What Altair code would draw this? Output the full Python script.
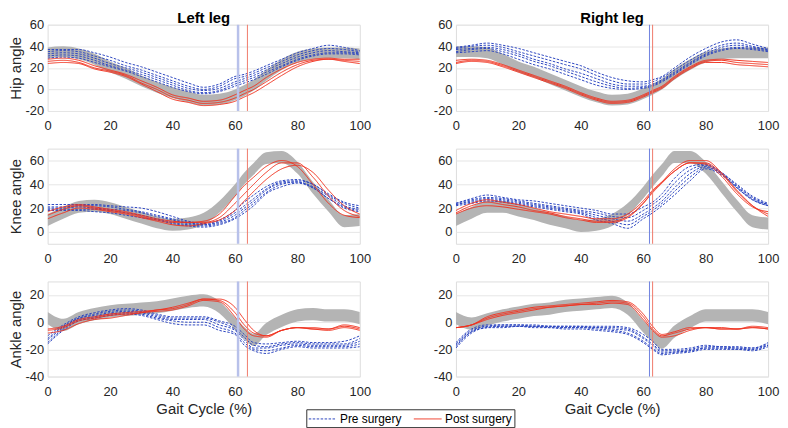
import altair as alt
import pandas as pd

FONT = "Liberation Sans"
BLUE = "#2e47c0"
RED = "#f0321e"
GRAY = "#b4b4b4"
GROUPS = ["Pre surgery", "Post surgery"]

X = [0, 5, 10, 15, 20, 25, 30, 35, 40, 45, 50, 55, 60, 63, 66, 70, 75, 80, 85, 90, 95, 100]
XTICKS = [0, 20, 40, 60, 80, 100]

# ---------------- Hip ----------------
HIP_L_NORM = [34, 35, 33, 28, 21, 15, 8, 2, -3, -7, -10, -9, -5, -1, 4, 13, 23, 30, 33, 34, 34, 33]
HIP_L_SD = 5
HIP_L_PRE = [
    [37, 37, 37, 34, 30, 25, 21, 16, 11, 6, 2, 5, 12, 14, 17, 22, 28, 34, 38, 41, 39, 36],
    [35, 36, 35, 31, 27, 22, 18, 13, 8, 3, 0, 3, 10, 12, 15, 20, 26, 32, 36, 38, 37, 35],
    [33, 34, 33, 29, 24, 20, 16, 11, 6, 1, -1, 1, 7, 10, 13, 18, 24, 30, 34, 36, 35, 34],
    [31, 32, 31, 27, 22, 18, 14, 9, 4, -1, -3, -1, 5, 8, 11, 16, 22, 28, 32, 34, 34, 33],
    [29, 30, 29, 25, 21, 17, 12, 7, 2, -2, -4, -2, 3, 6, 9, 14, 21, 27, 31, 33, 33, 32],
]
HIP_L_POST = [
    [28, 29, 27, 22, 18, 14, 8, 2, -5, -8, -11, -10, -5, -1, 3, 11, 19, 25, 28, 29, 28, 28],
    [26, 27, 25, 20, 17, 13, 6, 0, -7, -10, -13, -12, -8, -4, 0, 7, 16, 23, 27, 28, 27, 26],
    [24, 25, 24, 19, 16, 12, 5, -2, -9, -12, -15, -14, -11, -7, -3, 4, 13, 21, 26, 28, 26, 24],
]
HIP_R_NORM = [35, 35, 34, 28, 21, 16, 10, 4, -2, -7, -10, -9, -4, 0, 5, 14, 23, 30, 33, 34, 34, 34]
HIP_R_SD = 5
HIP_R_PRE = [
    [39, 41, 43, 41, 38, 34, 30, 26, 22, 16, 11, 8, 7, 9, 12, 20, 30, 38, 44, 46, 42, 38],
    [38, 40, 41, 39, 35, 31, 27, 23, 19, 13, 8, 5, 5, 7, 11, 18, 27, 35, 41, 43, 40, 37],
    [37, 38, 39, 37, 33, 28, 24, 19, 15, 10, 5, 3, 3, 5, 9, 16, 25, 33, 39, 41, 39, 37],
    [35, 37, 38, 35, 31, 26, 22, 17, 12, 7, 3, 1, 2, 4, 8, 15, 24, 32, 37, 39, 38, 36],
    [34, 35, 36, 33, 28, 23, 19, 14, 9, 4, 1, 0, 1, 3, 7, 14, 23, 31, 36, 38, 37, 35],
]
HIP_R_POST = [
    [27, 28, 27, 23, 18, 13, 8, 3, -3, -8, -11, -10, -5, -1, 3, 12, 21, 27, 28, 27, 26, 25],
    [25, 27, 26, 22, 17, 12, 7, 2, -4, -9, -12, -11, -6, -2, 2, 11, 20, 26, 27, 25, 24, 23],
    [24, 26, 25, 21, 16, 11, 6, 1, -5, -10, -13, -12, -7, -3, 1, 10, 19, 25, 25, 23, 22, 21],
]

# ---------------- Knee ----------------
KNEE_L_NORM = [10, 16, 21, 22, 20, 16, 12, 8, 6, 7, 11, 21, 35, 45, 53, 62, 63, 54, 37, 22, 9, 10]
KNEE_L_SD = 5
KNEE_L_PRE = [
    [23, 23, 23, 23, 22, 21, 20, 17, 13, 9, 7, 10, 18, 25, 31, 38, 43, 44, 40, 32, 25, 22],
    [21, 21, 22, 22, 21, 19, 17, 14, 11, 8, 6, 9, 16, 22, 28, 36, 42, 43, 40, 31, 24, 20],
    [20, 20, 21, 20, 19, 18, 16, 13, 10, 7, 6, 8, 14, 20, 26, 35, 41, 42, 38, 30, 22, 19],
    [19, 19, 19, 19, 18, 16, 14, 11, 8, 6, 5, 7, 12, 18, 24, 33, 40, 42, 37, 28, 21, 18],
    [18, 18, 18, 17, 16, 14, 12, 10, 7, 5, 4, 6, 11, 16, 22, 32, 38, 41, 37, 28, 20, 17],
]
KNEE_L_POST = [
    [17, 21, 23, 21, 19, 17, 14, 11, 9, 8, 9, 15, 30, 39, 46, 55, 60, 55, 40, 24, 14, 12],
    [14, 19, 22, 20, 18, 16, 13, 10, 8, 8, 8, 12, 24, 32, 40, 50, 58, 58, 46, 30, 18, 13],
    [11, 16, 20, 19, 17, 15, 12, 9, 6, 5, 7, 10, 18, 26, 34, 44, 53, 56, 50, 35, 22, 15],
]
KNEE_R_NORM = [10, 16, 21, 21, 18, 15, 11, 8, 5, 6, 10, 19, 33, 43, 52, 63, 63, 54, 38, 22, 9, 7]
KNEE_R_SD = 5
KNEE_R_PRE = [
    [24, 28, 31, 29, 27, 26, 24, 22, 20, 18, 15, 15, 21, 25, 32, 45, 55, 57, 50, 40, 30, 24],
    [24, 27, 29, 28, 26, 24, 22, 20, 18, 16, 13, 12, 18, 23, 29, 41, 52, 56, 50, 39, 29, 23],
    [23, 26, 28, 27, 25, 23, 21, 19, 17, 14, 11, 9, 15, 20, 26, 37, 49, 55, 49, 38, 28, 23],
    [23, 25, 27, 26, 24, 22, 20, 18, 16, 12, 9, 6, 13, 18, 24, 34, 46, 54, 49, 37, 27, 22],
    [22, 24, 26, 25, 23, 21, 19, 17, 15, 10, 7, 3, 11, 16, 22, 31, 43, 53, 48, 37, 27, 22],
]
KNEE_R_POST = [
    [18, 24, 27, 25, 23, 20, 17, 15, 13, 11, 11, 15, 26, 35, 42, 51, 58, 57, 47, 32, 21, 17],
    [16, 22, 25, 23, 21, 18, 16, 13, 11, 9, 9, 13, 24, 33, 41, 51, 58, 58, 49, 34, 22, 15],
    [15, 20, 22, 21, 19, 17, 15, 12, 10, 8, 8, 12, 24, 34, 42, 53, 60, 60, 50, 35, 22, 13],
]

# ---------------- Ankle ----------------
ANKLE_L_NORM = [3, -2, 3, 6, 8, 9, 10, 11, 13, 15, 16, 11, -1, -8, -13, -5, 1, 5, 6, 5, 5, 3]
ANKLE_L_SD = 4.5
ANKLE_L_PRE = [
    [-10, -2, 4, 7, 9, 10, 9, 6, 4, 4, 4, 1, -3, -9, -15, -16, -15, -14, -15, -15, -14, -10],
    [-12, -3, 3, 6, 8, 9, 8, 5, 3, 3, 3, 0, -5, -11, -17, -18, -16, -15, -16, -16, -16, -12],
    [-13, -4, 3, 5, 7, 8, 7, 4, 2, 2, 2, -2, -6, -13, -19, -19, -17, -16, -17, -17, -17, -14],
    [-15, -5, 2, 4, 6, 7, 6, 3, 1, 0, 0, -4, -8, -15, -20, -21, -19, -17, -18, -18, -18, -16],
    [-16, -6, 1, 3, 5, 6, 5, 2, -1, -2, -2, -6, -9, -17, -21, -23, -20, -18, -19, -19, -19, -18],
]
ANKLE_L_POST = [
    [-5, -3, 2, 4, 6, 7, 8, 9, 11, 14, 17, 17, 11, 2, -6, -10, -6, -4, -4, -5, -2, -4],
    [-6, -4, 1, 3, 5, 6, 7, 9, 10, 13, 17, 16, 7, -2, -8, -10, -6, -4, -5, -5, -3, -5],
    [-8, -6, -1, 2, 3, 5, 7, 8, 9, 12, 16, 15, 4, -5, -10, -11, -6, -4, -5, -6, -4, -6],
]
ANKLE_R_NORM = [3, -1, 2, 5, 7, 9, 10, 12, 13, 14, 15, 10, -3, -10, -15, -7, 0, 5, 5, 5, 5, 3]
ANKLE_R_SD = 4.5
ANKLE_R_PRE = [
    [-15, -5, -2, -2, -2, -2, -3, -3, -3, -3, -3, -4, -9, -14, -20, -20, -19, -17, -18, -18, -19, -15],
    [-16, -6, -3, -2, -2, -3, -3, -3, -3, -4, -4, -5, -11, -16, -21, -21, -20, -18, -18, -19, -19, -16],
    [-17, -7, -3, -3, -3, -3, -3, -4, -4, -4, -5, -6, -12, -17, -22, -22, -21, -19, -19, -19, -20, -17],
    [-18, -7, -4, -3, -3, -3, -4, -4, -4, -5, -6, -8, -14, -19, -23, -22, -21, -19, -19, -20, -20, -17],
    [-19, -8, -4, -4, -3, -4, -4, -5, -5, -6, -7, -9, -15, -20, -24, -23, -22, -20, -20, -20, -21, -18],
]
ANKLE_R_POST = [
    [-4, -2, 4, 7, 9, 11, 12, 13, 14, 15, 16, 15, 6, -3, -9, -7, -4, -4, -4, -5, -3, -4],
    [-4, -2, 3, 6, 8, 10, 11, 12, 13, 14, 15, 14, 4, -5, -10, -8, -5, -4, -5, -5, -4, -5],
    [-4, -2, 2, 5, 7, 9, 11, 12, 13, 13, 14, 13, 2, -6, -11, -10, -6, -4, -5, -5, -4, -5],
]

# Toe-off markers (pre, post) per side
TOE_L = [61, 64]
TOE_R = [62, 63]

LEG = alt.Legend(
    title=None, orient="none", legendX=261, legendY=388, direction="horizontal",
    symbolType="M-1,0H3", symbolSize=196, symbolStrokeWidth=1,
    labelFontSize=12, labelFont=FONT, labelColor="#000000",
    strokeColor="#333333", padding=2, columnPadding=9, labelOffset=17,
)

W = 315


def panel(norm, sd, pre, post, dom, yticks, toe, pre_rule, ytitle, xtitle, title, h):
    band_df = pd.DataFrame({"x": X, "lo": [m - sd for m in norm], "hi": [m + sd for m in norm]})
    recs = []
    for i, c in enumerate(pre):
        for xv, yv in zip(X, c):
            recs.append({"x": xv, "y": yv, "sid": f"a{i}", "group": GROUPS[0]})
    pre_df = pd.DataFrame(recs)
    recs = []
    for i, c in enumerate(post):
        for xv, yv in zip(X, c):
            recs.append({"x": xv, "y": yv, "sid": f"b{i}", "group": GROUPS[1]})
    post_df = pd.DataFrame(recs)

    xaxis = alt.Axis(values=XTICKS, title=xtitle, ticks=False, domain=False, grid=False,
                     labelFlush=False, labelPadding=9, labelFontSize=13, labelColor="#262626",
                     labelFont=FONT, titleFontSize=15, titleFontWeight="normal", titleFont=FONT,
                     titleColor="#262626", titlePadding=3)
    yaxis = alt.Axis(values=yticks, title=ytitle, ticks=False, domain=False, grid=True,
                     gridColor="#e6e6e6", labelFlush=False, labelPadding=4, labelFontSize=13,
                     labelColor="#262626", labelFont=FONT, labelExpr="'' + datum.value",
                     titleFontSize=15, titleFontWeight="normal", titleFont=FONT,
                     titleColor="#262626", titlePadding=1, minExtent=23, maxExtent=23)
    xs = alt.Scale(domain=[0, 100], nice=False, zero=False)
    ys = alt.Scale(domain=dom, nice=False, zero=False)
    xenc = alt.X("x:Q", scale=xs, axis=xaxis)
    color = alt.Color("group:N", scale=alt.Scale(domain=GROUPS, range=[BLUE, RED]), legend=LEG)
    dash = alt.StrokeDash("group:N", scale=alt.Scale(domain=GROUPS, range=[[2.5, 1.5], [1, 0]]), legend=LEG)

    band = alt.Chart(band_df).mark_area(color=GRAY, interpolate="monotone", clip=True).encode(
        x=xenc, y=alt.Y("lo:Q", scale=ys, axis=yaxis), y2="hi:Q")
    pre_l = alt.Chart(pre_df).mark_line(strokeWidth=1, interpolate="monotone", clip=True).encode(
        x=xenc, y=alt.Y("y:Q", scale=ys, axis=yaxis), color=color, strokeDash=dash, detail="sid:N")
    post_l = alt.Chart(post_df).mark_line(strokeWidth=1, interpolate="monotone", clip=True).encode(
        x=xenc, y=alt.Y("y:Q", scale=ys, axis=yaxis), color=color, strokeDash=dash, detail="sid:N")
    r1 = alt.Chart(pd.DataFrame({"x": [toe[0]]})).mark_rule(
        color=pre_rule[0], strokeWidth=pre_rule[1]).encode(x=xenc)
    r2 = alt.Chart(pd.DataFrame({"x": [toe[1]]})).mark_rule(
        color="#f07a6a", strokeWidth=1).encode(x=xenc)
    ch = alt.layer(band, pre_l, post_l, r1, r2).properties(width=W, height=h)
    if title:
        ch = ch.properties(title=alt.TitleParams(title, fontSize=15, fontWeight="bold", font=FONT,
                                                 color="#000000", offset=-7, anchor="middle"))
    return ch


LRULE = ["#b8c1ea", 2.5]
RRULE = ["#6f82e0", 1]

p1 = panel(HIP_L_NORM, HIP_L_SD, HIP_L_PRE, HIP_L_POST, [-20, 60], [-20, 0, 20, 40, 60], TOE_L, LRULE, "Hip angle", None, "Left leg", 87)
p2 = panel(HIP_R_NORM, HIP_R_SD, HIP_R_PRE, HIP_R_POST, [-20, 60], [-20, 0, 20, 40, 60], TOE_R, RRULE, None, None, "Right leg", 87)
p3 = panel(KNEE_L_NORM, KNEE_L_SD, KNEE_L_PRE, KNEE_L_POST, [-10, 70], [0, 20, 40, 60], TOE_L, LRULE, "Knee angle", None, None, 96)
p4 = panel(KNEE_R_NORM, KNEE_R_SD, KNEE_R_PRE, KNEE_R_POST, [-10, 70], [0, 20, 40, 60], TOE_R, RRULE, None, None, None, 96)
p5 = panel(ANKLE_L_NORM, ANKLE_L_SD, ANKLE_L_PRE, ANKLE_L_POST, [-40, 30], [-40, -20, 0, 20], TOE_L, LRULE, "Ankle angle", "Gait Cycle (%)", None, 96)
p6 = panel(ANKLE_R_NORM, ANKLE_R_SD, ANKLE_R_PRE, ANKLE_R_POST, [-40, 30], [-40, -20, 0, 20], TOE_R, RRULE, None, "Gait Cycle (%)", None, 96)

chart = alt.concat(p1, p2, p3, p4, p5, p6, columns=2, spacing={"row": 13, "column": 61},
                   align="each").properties(padding=0).configure_view(
    stroke="#969696", strokeWidth=1).configure(background="white")

chart.save("out.html", embed_options={"renderer": "svg", "actions": False})
